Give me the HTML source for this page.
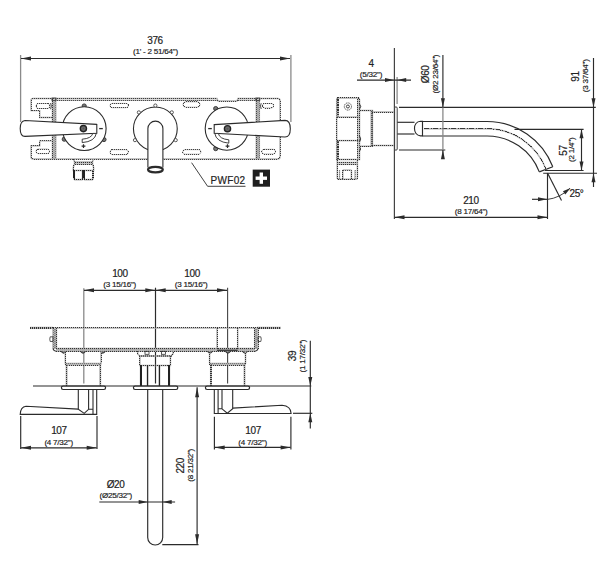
<!DOCTYPE html>
<html><head><meta charset="utf-8"><style>
html,body{margin:0;padding:0;background:#fff;}
body{width:612px;height:581px;overflow:hidden;position:relative;}
svg{position:absolute;left:0;top:0;}
text{font-family:"Liberation Sans",sans-serif;}
</style></head><body>
<svg width="612" height="581" viewBox="0 0 612 581">
<line x1="20.6" y1="55" x2="20.6" y2="122" stroke="#8a8a8a" stroke-width="1.3"/>
<line x1="290.9" y1="55" x2="290.9" y2="122" stroke="#8a8a8a" stroke-width="1.3"/>
<line x1="21" y1="58.5" x2="290" y2="58.5" stroke="#2b2b2b" stroke-width="1.15"/>
<polygon points="21,58.5 31.00,56.50 31.00,58.50 31.00,60.50" fill="#2b2b2b"/>
<polygon points="290,58.5 280.00,60.50 280.00,58.50 280.00,56.50" fill="#2b2b2b"/>
<text x="155.0" y="44.2" font-size="10" text-anchor="middle" fill="#222" stroke="#222" stroke-width="0.18" letter-spacing="-0.4">376</text>
<text x="155.5" y="54.1" font-size="8.1" text-anchor="middle" fill="#222" stroke="#222" stroke-width="0.18" letter-spacing="-0.25">(1' - 2 51/64")</text>
<path d="M53,98.5 L33,98.5 Q31,98.5 31,100.5 L31,110.6 L39.7,110.6 L39.7,117.5 L53,117.5" stroke="#b0b0b0" stroke-width="1.4" fill="none"/>
<path d="M53,98.5 L33,98.5 Q31,98.5 31,100.5 L31,110.6 L39.7,110.6 L39.7,117.5 L53,117.5" stroke="#333" stroke-width="0.9" fill="none" stroke-dasharray="1,1" shape-rendering="crispEdges"/>
<path d="M53,140.9 L39.7,140.9 L39.7,145.8 L31,145.8 L31,157 Q31,159 33,159 L53,159" stroke="#b0b0b0" stroke-width="1.4" fill="none"/>
<path d="M53,140.9 L39.7,140.9 L39.7,145.8 L31,145.8 L31,157 Q31,159 33,159 L53,159" stroke="#333" stroke-width="0.9" fill="none" stroke-dasharray="1,1" shape-rendering="crispEdges"/>
<path d="M53,98.5 L217,98.5 L218,101 L237,101 L238,98.5 L257,98.5" stroke="#b0b0b0" stroke-width="1.4" fill="none"/>
<path d="M53,98.5 L217,98.5 L218,101 L237,101 L238,98.5 L257,98.5" stroke="#333" stroke-width="0.9" fill="none" stroke-dasharray="1,1" shape-rendering="crispEdges"/>
<path d="M53,100.3 L217,100.3" stroke="#b0b0b0" stroke-width="1.3" fill="none"/>
<path d="M53,100.3 L217,100.3" stroke="#333" stroke-width="0.8" fill="none" stroke-dasharray="1,1" shape-rendering="crispEdges"/>
<path d="M238,100.3 L257,100.3" stroke="#b0b0b0" stroke-width="1.3" fill="none"/>
<path d="M238,100.3 L257,100.3" stroke="#333" stroke-width="0.8" fill="none" stroke-dasharray="1,1" shape-rendering="crispEdges"/>
<path d="M257,98.5 L278,98.5 Q280,98.5 280,100.5 L280,157 Q280,159 278,159 L53,159" stroke="#b0b0b0" stroke-width="1.4" fill="none"/>
<path d="M257,98.5 L278,98.5 Q280,98.5 280,100.5 L280,157 Q280,159 278,159 L53,159" stroke="#333" stroke-width="0.9" fill="none" stroke-dasharray="1,1" shape-rendering="crispEdges"/>
<line x1="52.5" y1="98.5" x2="52.5" y2="159" stroke="#b0b0b0" stroke-width="1.5"/>
<line x1="52.5" y1="98.5" x2="52.5" y2="159" stroke="#333" stroke-width="1" stroke-dasharray="1,1" shape-rendering="crispEdges"/>
<line x1="54.2" y1="99.5" x2="54.2" y2="159" stroke="#b0b0b0" stroke-width="2.1"/>
<line x1="54.2" y1="99.5" x2="54.2" y2="159" stroke="#a0a0a0" stroke-width="1.6" stroke-dasharray="1,1" shape-rendering="crispEdges"/>
<line x1="55.8" y1="98.5" x2="55.8" y2="159" stroke="#b0b0b0" stroke-width="1.3"/>
<line x1="55.8" y1="98.5" x2="55.8" y2="159" stroke="#666" stroke-width="0.8" stroke-dasharray="1,1" shape-rendering="crispEdges"/>
<rect x="52" y="98" width="4" height="2.5" fill="none" stroke="#333" stroke-width="0.8"/>
<line x1="256.3" y1="98.5" x2="256.3" y2="159" stroke="#b0b0b0" stroke-width="1.5"/>
<line x1="256.3" y1="98.5" x2="256.3" y2="159" stroke="#333" stroke-width="1" stroke-dasharray="1,1" shape-rendering="crispEdges"/>
<line x1="257.9" y1="99.5" x2="257.9" y2="159" stroke="#b0b0b0" stroke-width="2.1"/>
<line x1="257.9" y1="99.5" x2="257.9" y2="159" stroke="#a0a0a0" stroke-width="1.6" stroke-dasharray="1,1" shape-rendering="crispEdges"/>
<line x1="259.4" y1="98.5" x2="259.4" y2="159" stroke="#b0b0b0" stroke-width="1.3"/>
<line x1="259.4" y1="98.5" x2="259.4" y2="159" stroke="#666" stroke-width="0.8" stroke-dasharray="1,1" shape-rendering="crispEdges"/>
<rect x="255.8" y="98" width="4" height="2.5" fill="none" stroke="#333" stroke-width="0.8"/>
<rect x="36" y="103.5" width="14" height="5.0" rx="2.5" ry="2.5" stroke="#b0b0b0" stroke-width="0.9" fill="none"/>
<rect x="36" y="103.5" width="14" height="5.0" rx="2.5" ry="2.5" stroke="#333" stroke-width="0.9" fill="none" stroke-dasharray="1,1" shape-rendering="crispEdges"/>
<rect x="36" y="149" width="13.5" height="4.599999999999994" rx="2.299999999999997" ry="2.299999999999997" stroke="#b0b0b0" stroke-width="0.9" fill="none"/>
<rect x="36" y="149" width="13.5" height="4.599999999999994" rx="2.299999999999997" ry="2.299999999999997" stroke="#333" stroke-width="0.9" fill="none" stroke-dasharray="1,1" shape-rendering="crispEdges"/>
<rect x="110" y="103.4" width="18.30000000000001" height="4.299999999999997" rx="2.1499999999999986" ry="2.1499999999999986" stroke="#b0b0b0" stroke-width="0.9" fill="none"/>
<rect x="110" y="103.4" width="18.30000000000001" height="4.299999999999997" rx="2.1499999999999986" ry="2.1499999999999986" stroke="#333" stroke-width="0.9" fill="none" stroke-dasharray="1,1" shape-rendering="crispEdges"/>
<rect x="110" y="149.7" width="18.30000000000001" height="4.900000000000006" rx="2.450000000000003" ry="2.450000000000003" stroke="#b0b0b0" stroke-width="0.9" fill="none"/>
<rect x="110" y="149.7" width="18.30000000000001" height="4.900000000000006" rx="2.450000000000003" ry="2.450000000000003" stroke="#333" stroke-width="0.9" fill="none" stroke-dasharray="1,1" shape-rendering="crispEdges"/>
<rect x="183" y="101.8" width="17" height="5.400000000000006" rx="2.700000000000003" ry="2.700000000000003" stroke="#b0b0b0" stroke-width="0.9" fill="none"/>
<rect x="183" y="101.8" width="17" height="5.400000000000006" rx="2.700000000000003" ry="2.700000000000003" stroke="#333" stroke-width="0.9" fill="none" stroke-dasharray="1,1" shape-rendering="crispEdges"/>
<rect x="182.7" y="149.7" width="18.30000000000001" height="4.5" rx="2.25" ry="2.25" stroke="#b0b0b0" stroke-width="0.9" fill="none"/>
<rect x="182.7" y="149.7" width="18.30000000000001" height="4.5" rx="2.25" ry="2.25" stroke="#333" stroke-width="0.9" fill="none" stroke-dasharray="1,1" shape-rendering="crispEdges"/>
<rect x="262.5" y="103.5" width="11.100000000000023" height="4.5" rx="2.25" ry="2.25" stroke="#b0b0b0" stroke-width="0.9" fill="none"/>
<rect x="262.5" y="103.5" width="11.100000000000023" height="4.5" rx="2.25" ry="2.25" stroke="#333" stroke-width="0.9" fill="none" stroke-dasharray="1,1" shape-rendering="crispEdges"/>
<rect x="261.8" y="149.3" width="13.699999999999989" height="4.699999999999989" rx="2.3499999999999943" ry="2.3499999999999943" stroke="#b0b0b0" stroke-width="0.9" fill="none"/>
<rect x="261.8" y="149.3" width="13.699999999999989" height="4.699999999999989" rx="2.3499999999999943" ry="2.3499999999999943" stroke="#333" stroke-width="0.9" fill="none" stroke-dasharray="1,1" shape-rendering="crispEdges"/>
<path d="M50.6,103 Q52,106 50.6,109.2" stroke="#333" stroke-width="0.9" fill="none"/>
<path d="M261.2,103.2 Q259.8,106 261.2,109" stroke="#333" stroke-width="0.9" fill="none"/>
<circle cx="84.20" cy="106.00" r="2.1" stroke="#333" stroke-width="0.9" fill="#777"/>
<circle cx="64.25" cy="139.21" r="2.1" stroke="#333" stroke-width="0.9" fill="#777"/>
<circle cx="103.97" cy="139.56" r="2.1" stroke="#333" stroke-width="0.9" fill="#777"/>
<circle cx="84.2" cy="128.6" r="21.9" stroke="#2b2b2b" stroke-width="1.1" fill="#fff"/>
<path d="M96.8,124.4 L25,120.5 Q20.2,121 20.2,128.4 Q20.2,136.4 25,136.4 L96.8,133.2 Z" stroke="#2b2b2b" stroke-width="1.1" fill="#fff"/>
<circle cx="83.4" cy="128.6" r="3.1" stroke="#222" stroke-width="1.4" fill="#6d6d6d"/>
<circle cx="83.4" cy="128.6" r="1.0" fill="#555"/>
<path d="M99.2,128.6 L102.8,128.6" stroke="#2b2b2b" stroke-width="1.3" fill="none"/>
<path d="M81.6,146.2 L85.4,146.2 M83.5,144.3 L83.5,148.1" stroke="#2b2b2b" stroke-width="1.2" fill="none"/>
<path d="M96.3,133.4 Q95,141.5 82.2,142.6 L82.2,139.2 Q91.5,138.5 92.8,133.4 Z" stroke="#2b2b2b" stroke-width="0.9" fill="#fff"/>
<circle cx="155.35" cy="128.85" r="21.9" stroke="#2b2b2b" stroke-width="1.1" fill="#fff"/>
<circle cx="155.35" cy="105.55" r="1.6" stroke="#333" stroke-width="0.8" fill="#fff"/>
<circle cx="138.87" cy="112.37" r="1.6" stroke="#333" stroke-width="0.8" fill="#fff"/>
<circle cx="171.83" cy="112.37" r="1.6" stroke="#333" stroke-width="0.8" fill="#fff"/>
<circle cx="134.97" cy="140.15" r="1.6" stroke="#333" stroke-width="0.8" fill="#fff"/>
<circle cx="175.73" cy="140.15" r="1.6" stroke="#333" stroke-width="0.8" fill="#fff"/>
<path d="M147.9,167.5 L147.9,128.6 A7.5,7.5 0 0 1 162.9,128.6 L162.9,167.5" stroke="#2b2b2b" stroke-width="1.1" fill="#fff"/>
<ellipse cx="155.4" cy="169.6" rx="7.4" ry="2.8" stroke="#2b2b2b" stroke-width="2.2" fill="#fff"/>
<circle cx="215.70" cy="108.57" r="2.1" stroke="#333" stroke-width="0.9" fill="#777"/>
<circle cx="215.70" cy="148.63" r="2.1" stroke="#333" stroke-width="0.9" fill="#777"/>
<circle cx="226.8" cy="128.6" r="21.6" stroke="#2b2b2b" stroke-width="1.1" fill="#fff"/>
<path d="M214.2,124.6 L285,120.4 Q290.3,120.4 290.3,128.7 Q290.3,137 285,137 L214.2,133.2 Z" stroke="#2b2b2b" stroke-width="1.1" fill="#fff"/>
<circle cx="227.5" cy="128.7" r="3.1" stroke="#222" stroke-width="1.4" fill="#6d6d6d"/>
<circle cx="227.5" cy="128.7" r="1.0" fill="#555"/>
<path d="M208.2,128.6 L211.8,128.6" stroke="#2b2b2b" stroke-width="1.3" fill="none"/>
<path d="M225.6,146.2 L229.4,146.2 M227.5,144.3 L227.5,148.1" stroke="#2b2b2b" stroke-width="1.2" fill="none"/>
<path d="M214.8,133.4 Q216,141.8 228.8,143.2 L228.8,139.8 Q219.5,139 218.3,133.4 Z" stroke="#2b2b2b" stroke-width="0.9" fill="#fff"/>
<path d="M73.5,159.3 Q74.5,161 74.5,162 L74.5,164.5 Q73.3,166 73.3,168 L73.3,170.4 L93.6,170.4 L93.6,168 Q93.6,166 92.5,164.5 L92.5,162 Q92.5,161 93.5,159.3" stroke="#b0b0b0" stroke-width="1.5" fill="none"/>
<path d="M73.5,159.3 Q74.5,161 74.5,162 L74.5,164.5 Q73.3,166 73.3,168 L73.3,170.4 L93.6,170.4 L93.6,168 Q93.6,166 92.5,164.5 L92.5,162 Q92.5,161 93.5,159.3" stroke="#333" stroke-width="1" fill="none" stroke-dasharray="1,1" shape-rendering="crispEdges"/>
<line x1="74.5" y1="162.1" x2="92.5" y2="162.1" stroke="#b0b0b0" stroke-width="1.7"/>
<line x1="74.5" y1="162.1" x2="92.5" y2="162.1" stroke="#333" stroke-width="1.2" stroke-dasharray="1,1" shape-rendering="crispEdges"/>
<line x1="74.5" y1="164.1" x2="92.5" y2="164.1" stroke="#b0b0b0" stroke-width="1.7"/>
<line x1="74.5" y1="164.1" x2="92.5" y2="164.1" stroke="#333" stroke-width="1.2" stroke-dasharray="1,1" shape-rendering="crispEdges"/>
<path d="M74.1,170.4 L74.1,178 Q74.1,179.6 75.7,179.6 L81.1,179.6 Q82.7,179.6 82.7,178 L82.7,170.4" stroke="#b0b0b0" stroke-width="1.9" fill="none"/>
<path d="M74.1,170.4 L74.1,178 Q74.1,179.6 75.7,179.6 L81.1,179.6 Q82.7,179.6 82.7,178 L82.7,170.4" stroke="#222" stroke-width="1.4" fill="none" stroke-dasharray="1.2,0.8" shape-rendering="crispEdges"/>
<path d="M83.9,170.4 L83.9,178 Q83.9,179.6 85.5,179.6 L91.4,179.6 Q93,179.6 93,178 L93,170.4" stroke="#b0b0b0" stroke-width="1.9" fill="none"/>
<path d="M83.9,170.4 L83.9,178 Q83.9,179.6 85.5,179.6 L91.4,179.6 Q93,179.6 93,178 L93,170.4" stroke="#222" stroke-width="1.4" fill="none" stroke-dasharray="1.2,0.8" shape-rendering="crispEdges"/>
<path d="M191.6,162.7 L207.6,186.3 L245.5,186.3" stroke="#2b2b2b" stroke-width="0.9" fill="none"/>
<text x="210.6" y="183.9" font-size="10" text-anchor="start" fill="#222" stroke="#222" stroke-width="0.18" letter-spacing="0.3">PWF02</text>
<rect x="252.7" y="169.6" width="17.3" height="17.1" fill="#1f1f1f"/>
<rect x="259.6" y="172.5" width="3.4" height="11.3" fill="#fff"/>
<rect x="255.6" y="176.5" width="11.4" height="3.4" fill="#fff"/>
<line x1="394.4" y1="48" x2="394.4" y2="219" stroke="#444" stroke-width="1.2"/>
<line x1="397.1" y1="77" x2="397.1" y2="104" stroke="#8a8a8a" stroke-width="1.3"/>
<line x1="357" y1="80.1" x2="411" y2="80.1" stroke="#2b2b2b" stroke-width="1.15"/>
<polygon points="394,80.1 385.00,82.10 385.00,80.10 385.00,78.10" fill="#2b2b2b"/>
<polygon points="397.2,80.1 406.20,78.10 406.20,80.10 406.20,82.10" fill="#2b2b2b"/>
<text x="371" y="66.5" font-size="10" text-anchor="middle" fill="#222" stroke="#222" stroke-width="0.18" letter-spacing="-0.4">4</text>
<text x="371.0" y="77.3" font-size="8.1" text-anchor="middle" fill="#222" stroke="#222" stroke-width="0.18" letter-spacing="-0.25">(5/32")</text>
<path d="M338,97.9 L357.8,97.9 Q359.5,97.9 359.5,99.6 L359.5,159.5 L336.7,159.5 L336.7,99.6 Q336.7,97.9 338,97.9 Z" stroke="#b0b0b0" stroke-width="1.5" fill="none"/>
<path d="M338,97.9 L357.8,97.9 Q359.5,97.9 359.5,99.6 L359.5,159.5 L336.7,159.5 L336.7,99.6 Q336.7,97.9 338,97.9 Z" stroke="#333" stroke-width="1" fill="none" stroke-dasharray="1,1" shape-rendering="crispEdges"/>
<line x1="357.8" y1="99" x2="357.8" y2="159.5" stroke="#b0b0b0" stroke-width="1.5"/>
<line x1="357.8" y1="99" x2="357.8" y2="159.5" stroke="#333" stroke-width="1" stroke-dasharray="1,1" shape-rendering="crispEdges"/>
<line x1="337.6" y1="98.5" x2="337.6" y2="117.1" stroke="#b0b0b0" stroke-width="2.5"/>
<line x1="337.6" y1="98.5" x2="337.6" y2="117.1" stroke="#333" stroke-width="2" stroke-dasharray="1,0.7" shape-rendering="crispEdges"/>
<line x1="337.6" y1="140.6" x2="337.6" y2="159.1" stroke="#b0b0b0" stroke-width="2.5"/>
<line x1="337.6" y1="140.6" x2="337.6" y2="159.1" stroke="#333" stroke-width="2" stroke-dasharray="1,0.7" shape-rendering="crispEdges"/>
<line x1="336.7" y1="117.1" x2="359.5" y2="117.1" stroke="#b0b0b0" stroke-width="1.5"/>
<line x1="336.7" y1="117.1" x2="359.5" y2="117.1" stroke="#333" stroke-width="1" stroke-dasharray="1,1" shape-rendering="crispEdges"/>
<line x1="336.7" y1="140.6" x2="359.5" y2="140.6" stroke="#b0b0b0" stroke-width="1.5"/>
<line x1="336.7" y1="140.6" x2="359.5" y2="140.6" stroke="#333" stroke-width="1" stroke-dasharray="1,1" shape-rendering="crispEdges"/>
<circle cx="347.9" cy="106.5" r="3.6" stroke="#2b2b2b" stroke-width="0.8" fill="none" stroke-dasharray="1.2,0.6"/>
<circle cx="347.9" cy="106.5" r="1.5" stroke="#2b2b2b" stroke-width="0.9" fill="none"/>
<path d="M359.5,110.5 L372.4,110.5 L372.4,146.2 L359.5,146.2" stroke="#b0b0b0" stroke-width="1.5" fill="none"/>
<path d="M359.5,110.5 L372.4,110.5 L372.4,146.2 L359.5,146.2" stroke="#333" stroke-width="1" fill="none" stroke-dasharray="1,1" shape-rendering="crispEdges"/>
<line x1="371.6" y1="110.5" x2="371.6" y2="146.2" stroke="#b0b0b0" stroke-width="2.3"/>
<line x1="371.6" y1="110.5" x2="371.6" y2="146.2" stroke="#555" stroke-width="1.8" stroke-dasharray="1,1" shape-rendering="crispEdges"/>
<path d="M372.4,112 L394.5,112 M372.4,145.4 L394.5,145.4" stroke="#b0b0b0" stroke-width="1.5" fill="none"/>
<path d="M372.4,112 L394.5,112 M372.4,145.4 L394.5,145.4" stroke="#333" stroke-width="1" fill="none" stroke-dasharray="1,1" shape-rendering="crispEdges"/>
<path d="M359.5,104 Q362,106.5 359.5,109" stroke="#333" stroke-width="0.9" fill="#999"/>
<path d="M359.5,136 Q362,139.0 359.5,142" stroke="#333" stroke-width="0.9" fill="#999"/>
<path d="M359.5,147 Q362,149.0 359.5,151" stroke="#333" stroke-width="0.9" fill="#999"/>
<path d="M337.2,159.5 L337.2,177.5 Q337.2,179.3 339,179.3 L355.6,179.3 Q357.4,179.3 357.4,177.5 L357.4,159.5" stroke="#b0b0b0" stroke-width="1.5" fill="none"/>
<path d="M337.2,159.5 L337.2,177.5 Q337.2,179.3 339,179.3 L355.6,179.3 Q357.4,179.3 357.4,177.5 L357.4,159.5" stroke="#333" stroke-width="1" fill="none" stroke-dasharray="1,1" shape-rendering="crispEdges"/>
<line x1="337.2" y1="162.5" x2="357.4" y2="162.5" stroke="#b0b0b0" stroke-width="1.5"/>
<line x1="337.2" y1="162.5" x2="357.4" y2="162.5" stroke="#333" stroke-width="1" stroke-dasharray="1,1" shape-rendering="crispEdges"/>
<line x1="337.2" y1="164.3" x2="357.4" y2="164.3" stroke="#b0b0b0" stroke-width="1.5"/>
<line x1="337.2" y1="164.3" x2="357.4" y2="164.3" stroke="#333" stroke-width="1" stroke-dasharray="1,1" shape-rendering="crispEdges"/>
<line x1="342.8" y1="170" x2="342.8" y2="179.3" stroke="#b0b0b0" stroke-width="1.5"/>
<line x1="342.8" y1="170" x2="342.8" y2="179.3" stroke="#333" stroke-width="1" stroke-dasharray="1,1" shape-rendering="crispEdges"/>
<line x1="351.4" y1="170" x2="351.4" y2="179.3" stroke="#b0b0b0" stroke-width="1.5"/>
<line x1="351.4" y1="170" x2="351.4" y2="179.3" stroke="#333" stroke-width="1" stroke-dasharray="1,1" shape-rendering="crispEdges"/>
<line x1="342.8" y1="170" x2="351.4" y2="170" stroke="#b0b0b0" stroke-width="1.3"/>
<line x1="342.8" y1="170" x2="351.4" y2="170" stroke="#333" stroke-width="0.8" stroke-dasharray="1,1" shape-rendering="crispEdges"/>
<line x1="339.5" y1="170" x2="339.5" y2="179" stroke="#b0b0b0" stroke-width="1.3"/>
<line x1="339.5" y1="170" x2="339.5" y2="179" stroke="#777" stroke-width="0.8" stroke-dasharray="1,1" shape-rendering="crispEdges"/>
<line x1="355" y1="170" x2="355" y2="179" stroke="#b0b0b0" stroke-width="1.3"/>
<line x1="355" y1="170" x2="355" y2="179" stroke="#777" stroke-width="0.8" stroke-dasharray="1,1" shape-rendering="crispEdges"/>
<rect x="394.6" y="106.9" width="2.6" height="43.3" rx="1.2" ry="1.2" stroke="#2b2b2b" stroke-width="0.9" fill="#fff"/>
<line x1="399" y1="107.4" x2="595.8" y2="107.4" stroke="#2b2b2b" stroke-width="1.15"/>
<line x1="399" y1="150" x2="445.3" y2="150" stroke="#2b2b2b" stroke-width="1.15"/>
<line x1="397.3" y1="122.3" x2="414.5" y2="122.3" stroke="#2b2b2b" stroke-width="1.15"/>
<line x1="397.3" y1="134" x2="414.5" y2="134" stroke="#2b2b2b" stroke-width="1.15"/>
<path d="M422.5,121.3 L420.5,121.3 C416.5,121.6 414.5,125 414.5,128.6 C414.5,132.2 416.5,135.6 420.5,135.9 L422.5,135.9 Z" stroke="#2b2b2b" stroke-width="1.15" fill="none"/>
<path d="M422.5,121.5 L487,121.5 A70.5,70.5 0 0 1 552.8,166.8" stroke="#2b2b2b" stroke-width="1.15" fill="none"/>
<path d="M422.5,136 L487,136 A56,56 0 0 1 539.3,171.9" stroke="#2b2b2b" stroke-width="1.15" fill="none"/>
<path d="M552.8,166.8 L539.3,171.9" stroke="#2b2b2b" stroke-width="1.15" fill="none"/>
<path d="M424,128.7 L487,128.7 A63.3,63.3 0 0 1 546.1,169.3" stroke="#b0b0b0" stroke-width="1.4" fill="none"/>
<path d="M424,128.7 L487,128.7 A63.3,63.3 0 0 1 546.1,169.3" stroke="#2b2b2b" stroke-width="0.9" fill="none" stroke-dasharray="5,1.5,1,1.5" shape-rendering="crispEdges"/>
<line x1="442.9" y1="55" x2="442.9" y2="107.4" stroke="#2b2b2b" stroke-width="1.15"/>
<line x1="442.9" y1="107.4" x2="442.9" y2="150" stroke="#8a8a8a" stroke-width="1.3"/>
<line x1="442.9" y1="150" x2="442.9" y2="156" stroke="#2b2b2b" stroke-width="1.15"/>
<polygon points="442.9,107.2 440.90,98.20 442.90,98.20 444.90,98.20" fill="#2b2b2b"/>
<polygon points="442.9,150.2 444.90,159.20 442.90,159.20 440.90,159.20" fill="#2b2b2b"/>
<text x="429.4" y="74.4" font-size="10" text-anchor="middle" fill="#222" stroke="#222" stroke-width="0.18" transform="rotate(-90 429.4 74.4)" letter-spacing="-0.4">Ø60</text>
<text x="437.9" y="74.1" font-size="8.1" text-anchor="middle" fill="#222" stroke="#222" stroke-width="0.18" transform="rotate(-90 437.9 74.1)" letter-spacing="-0.25">(Ø2 23/64")</text>
<line x1="593.5" y1="58" x2="593.5" y2="187" stroke="#2b2b2b" stroke-width="1.15"/>
<polygon points="593.5,107.2 591.50,98.20 593.50,98.20 595.50,98.20" fill="#2b2b2b"/>
<polygon points="593.5,173.2 595.50,182.20 593.50,182.20 591.50,182.20" fill="#2b2b2b"/>
<text x="579.3" y="76.5" font-size="10" text-anchor="middle" fill="#222" stroke="#222" stroke-width="0.18" transform="rotate(-90 579.3 76.5)" letter-spacing="-0.4">91</text>
<text x="588.1" y="75.8" font-size="8.1" text-anchor="middle" fill="#222" stroke="#222" stroke-width="0.18" transform="rotate(-90 588.1 75.8)" letter-spacing="-0.25">(3 37/64")</text>
<line x1="514.5" y1="129.3" x2="583.6" y2="129.3" stroke="#2b2b2b" stroke-width="1.15"/>
<line x1="545" y1="170.5" x2="583.6" y2="170.5" stroke="#2b2b2b" stroke-width="1.15"/>
<line x1="543.2" y1="173.2" x2="597" y2="173.2" stroke="#2b2b2b" stroke-width="1.15"/>
<line x1="581.5" y1="129.3" x2="581.5" y2="170.5" stroke="#2b2b2b" stroke-width="1.15"/>
<polygon points="581.5,129.3 583.50,138.30 581.50,138.30 579.50,138.30" fill="#2b2b2b"/>
<polygon points="581.5,170.5 579.50,161.50 581.50,161.50 583.50,161.50" fill="#2b2b2b"/>
<text x="566.6" y="150.5" font-size="10" text-anchor="middle" fill="#222" stroke="#222" stroke-width="0.18" transform="rotate(-90 566.6 150.5)" letter-spacing="-0.4">57</text>
<text x="574.0" y="149.8" font-size="8.1" text-anchor="middle" fill="#222" stroke="#222" stroke-width="0.18" transform="rotate(-90 574.0 149.8)" letter-spacing="-0.25">(2 1/4")</text>
<line x1="547.5" y1="173" x2="547.5" y2="219" stroke="#2b2b2b" stroke-width="1.15"/>
<line x1="394.5" y1="217.3" x2="547.5" y2="217.3" stroke="#2b2b2b" stroke-width="1.15"/>
<polygon points="394.5,217.3 404.50,215.30 404.50,217.30 404.50,219.30" fill="#2b2b2b"/>
<polygon points="547.5,217.3 537.50,219.30 537.50,217.30 537.50,215.30" fill="#2b2b2b"/>
<text x="470.9" y="204.2" font-size="10" text-anchor="middle" fill="#222" stroke="#222" stroke-width="0.18" letter-spacing="-0.4">210</text>
<text x="471.1" y="213.6" font-size="8.1" text-anchor="middle" fill="#222" stroke="#222" stroke-width="0.18" letter-spacing="-0.25">(8 17/64")</text>
<line x1="547.5" y1="173" x2="561.5" y2="200.5" stroke="#2b2b2b" stroke-width="1.15"/>
<path d="M547,199.5 Q560,198 570,188.3" stroke="#2b2b2b" stroke-width="0.9" fill="none"/>
<line x1="532" y1="199.3" x2="547" y2="199.3" stroke="#2b2b2b" stroke-width="1.15"/>
<polygon points="547,199.3 538.00,201.30 538.00,199.30 538.00,197.30" fill="#2b2b2b"/>
<polygon points="570.5,188 565.30,194.40 564.10,192.80 562.90,191.20" fill="#2b2b2b"/>
<text x="569.5" y="196.6" font-size="10" text-anchor="start" fill="#222" stroke="#222" stroke-width="0.18" letter-spacing="-0.4">25°</text>
<line x1="83.8" y1="288.2" x2="83.8" y2="383.5" stroke="#8a8a8a" stroke-width="1.3"/>
<line x1="155.5" y1="287.7" x2="155.5" y2="383.5" stroke="#2b2b2b" stroke-width="1.2"/>
<line x1="227.6" y1="287.7" x2="227.6" y2="383.5" stroke="#444" stroke-width="1.1"/>
<line x1="84" y1="290.3" x2="227" y2="290.3" stroke="#2b2b2b" stroke-width="1.15"/>
<polygon points="84,290.3 94.00,288.30 94.00,290.30 94.00,292.30" fill="#2b2b2b"/>
<polygon points="155.3,290.3 145.30,292.30 145.30,290.30 145.30,288.30" fill="#2b2b2b"/>
<polygon points="155.7,290.3 165.70,288.30 165.70,290.30 165.70,292.30" fill="#2b2b2b"/>
<polygon points="227,290.3 217.00,292.30 217.00,290.30 217.00,288.30" fill="#2b2b2b"/>
<text x="119.9" y="277.2" font-size="10" text-anchor="middle" fill="#222" stroke="#222" stroke-width="0.18" letter-spacing="-0.4">100</text>
<text x="119.7" y="286.8" font-size="8.1" text-anchor="middle" fill="#222" stroke="#222" stroke-width="0.18" letter-spacing="-0.25">(3 15/16")</text>
<text x="192.1" y="277.2" font-size="10" text-anchor="middle" fill="#222" stroke="#222" stroke-width="0.18" letter-spacing="-0.4">100</text>
<text x="191.2" y="286.8" font-size="8.1" text-anchor="middle" fill="#222" stroke="#222" stroke-width="0.18" letter-spacing="-0.25">(3 15/16")</text>
<line x1="30.2" y1="327.9" x2="53" y2="327.9" stroke="#b0b0b0" stroke-width="2.3"/>
<line x1="30.2" y1="327.9" x2="53" y2="327.9" stroke="#333" stroke-width="1.8" stroke-dasharray="1,1" shape-rendering="crispEdges"/>
<line x1="53" y1="327.9" x2="280.8" y2="327.9" stroke="#b0b0b0" stroke-width="1.5"/>
<line x1="53" y1="327.9" x2="280.8" y2="327.9" stroke="#333" stroke-width="1" stroke-dasharray="1,1" shape-rendering="crispEdges"/>
<line x1="257" y1="327.9" x2="280.8" y2="327.9" stroke="#b0b0b0" stroke-width="2.3"/>
<line x1="257" y1="327.9" x2="280.8" y2="327.9" stroke="#333" stroke-width="1.8" stroke-dasharray="1,1" shape-rendering="crispEdges"/>
<line x1="53" y1="327.9" x2="53" y2="348.5" stroke="#b0b0b0" stroke-width="1.5"/>
<line x1="53" y1="327.9" x2="53" y2="348.5" stroke="#333" stroke-width="1" stroke-dasharray="1,1" shape-rendering="crispEdges"/>
<line x1="54.7" y1="329" x2="54.7" y2="349" stroke="#b0b0b0" stroke-width="2.5"/>
<line x1="54.7" y1="329" x2="54.7" y2="349" stroke="#888" stroke-width="2" stroke-dasharray="1,1" shape-rendering="crispEdges"/>
<line x1="56.4" y1="327.9" x2="56.4" y2="348.5" stroke="#b0b0b0" stroke-width="1.5"/>
<line x1="56.4" y1="327.9" x2="56.4" y2="348.5" stroke="#333" stroke-width="1" stroke-dasharray="1,1" shape-rendering="crispEdges"/>
<path d="M53,348.5 Q53.5,351 56,351.2" stroke="#333" stroke-width="1.15" fill="none"/>
<line x1="258" y1="327.9" x2="258" y2="348.5" stroke="#b0b0b0" stroke-width="1.5"/>
<line x1="258" y1="327.9" x2="258" y2="348.5" stroke="#333" stroke-width="1" stroke-dasharray="1,1" shape-rendering="crispEdges"/>
<line x1="256.3" y1="329" x2="256.3" y2="349" stroke="#b0b0b0" stroke-width="2.5"/>
<line x1="256.3" y1="329" x2="256.3" y2="349" stroke="#888" stroke-width="2" stroke-dasharray="1,1" shape-rendering="crispEdges"/>
<line x1="254.7" y1="327.9" x2="254.7" y2="348.5" stroke="#b0b0b0" stroke-width="1.5"/>
<line x1="254.7" y1="327.9" x2="254.7" y2="348.5" stroke="#333" stroke-width="1" stroke-dasharray="1,1" shape-rendering="crispEdges"/>
<path d="M258,348.5 Q257.5,351 255,351.2" stroke="#333" stroke-width="1.15" fill="none"/>
<line x1="56" y1="348.6" x2="255" y2="348.6" stroke="#b0b0b0" stroke-width="1.5"/>
<line x1="56" y1="348.6" x2="255" y2="348.6" stroke="#333" stroke-width="1" stroke-dasharray="1,1" shape-rendering="crispEdges"/>
<line x1="56" y1="349.9" x2="255" y2="349.9" stroke="#b0b0b0" stroke-width="1.9"/>
<line x1="56" y1="349.9" x2="255" y2="349.9" stroke="#aaa" stroke-width="1.4" stroke-dasharray="1,1" shape-rendering="crispEdges"/>
<line x1="56" y1="351.2" x2="255" y2="351.2" stroke="#b0b0b0" stroke-width="1.5"/>
<line x1="56" y1="351.2" x2="255" y2="351.2" stroke="#333" stroke-width="1" stroke-dasharray="1,1" shape-rendering="crispEdges"/>
<path d="M50.2,336.8 Q49.3,339.2 50.2,341.5 L53,341.5 L53,336.8 Z" stroke="#333" stroke-width="0.8" fill="none"/>
<path d="M260.8,336.8 Q261.7,339.2 260.8,341.5 L258,341.5 L258,336.8 Z" stroke="#333" stroke-width="0.8" fill="none"/>
<line x1="217" y1="327.9" x2="217" y2="350" stroke="#b0b0b0" stroke-width="1.5"/>
<line x1="217" y1="327.9" x2="217" y2="350" stroke="#333" stroke-width="1" stroke-dasharray="1,1" shape-rendering="crispEdges"/>
<line x1="237.7" y1="327.9" x2="237.7" y2="350" stroke="#b0b0b0" stroke-width="1.5"/>
<line x1="237.7" y1="327.9" x2="237.7" y2="350" stroke="#333" stroke-width="1" stroke-dasharray="1,1" shape-rendering="crispEdges"/>
<line x1="217" y1="350.3" x2="237.7" y2="350.3" stroke="#333" stroke-width="1.2"/>
<path d="M61.1,351.3 Q63.6,355 66.1,351.3" stroke="#333" stroke-width="1.15" fill="#888"/>
<path d="M80.5,351.3 Q83,355 85.5,351.3" stroke="#333" stroke-width="1.15" fill="#888"/>
<path d="M100.3,351.3 Q102.8,355 105.3,351.3" stroke="#333" stroke-width="1.15" fill="#888"/>
<path d="M207.5,351.3 Q210,355 212.5,351.3" stroke="#333" stroke-width="1.15" fill="#888"/>
<path d="M225.4,351.3 Q227.9,355 230.4,351.3" stroke="#333" stroke-width="1.15" fill="#888"/>
<path d="M242.5,351.3 Q245,355 247.5,351.3" stroke="#333" stroke-width="1.15" fill="#888"/>
<path d="M65.3,351.5 L65.3,363 Q65.3,365 67.3,365 L99,365 Q101,365 101,363 L101,351.5" stroke="#b0b0b0" stroke-width="1.5" fill="none"/>
<path d="M65.3,351.5 L65.3,363 Q65.3,365 67.3,365 L99,365 Q101,365 101,363 L101,351.5" stroke="#333" stroke-width="1" fill="none" stroke-dasharray="1,1" shape-rendering="crispEdges"/>
<line x1="66" y1="363.6" x2="100.5" y2="363.6" stroke="#b0b0b0" stroke-width="1.9"/>
<line x1="66" y1="363.6" x2="100.5" y2="363.6" stroke="#777" stroke-width="1.4" stroke-dasharray="1,1" shape-rendering="crispEdges"/>
<line x1="66.6" y1="365" x2="66.6" y2="385.5" stroke="#b0b0b0" stroke-width="1.9"/>
<line x1="66.6" y1="365" x2="66.6" y2="385.5" stroke="#333" stroke-width="1.4" stroke-dasharray="1,1" shape-rendering="crispEdges"/>
<line x1="100.2" y1="365" x2="100.2" y2="385.5" stroke="#b0b0b0" stroke-width="1.9"/>
<line x1="100.2" y1="365" x2="100.2" y2="385.5" stroke="#333" stroke-width="1.4" stroke-dasharray="1,1" shape-rendering="crispEdges"/>
<path d="M209.6,351.5 L209.6,363 Q209.6,365 211.6,365 L243.5,365 Q245.5,365 245.5,363 L245.5,351.5" stroke="#b0b0b0" stroke-width="1.5" fill="none"/>
<path d="M209.6,351.5 L209.6,363 Q209.6,365 211.6,365 L243.5,365 Q245.5,365 245.5,363 L245.5,351.5" stroke="#333" stroke-width="1" fill="none" stroke-dasharray="1,1" shape-rendering="crispEdges"/>
<line x1="210.3" y1="363.6" x2="245" y2="363.6" stroke="#b0b0b0" stroke-width="1.9"/>
<line x1="210.3" y1="363.6" x2="245" y2="363.6" stroke="#777" stroke-width="1.4" stroke-dasharray="1,1" shape-rendering="crispEdges"/>
<line x1="210.9" y1="365" x2="210.9" y2="385.5" stroke="#b0b0b0" stroke-width="1.9"/>
<line x1="210.9" y1="365" x2="210.9" y2="385.5" stroke="#333" stroke-width="1.4" stroke-dasharray="1,1" shape-rendering="crispEdges"/>
<line x1="244.5" y1="365" x2="244.5" y2="385.5" stroke="#b0b0b0" stroke-width="1.9"/>
<line x1="244.5" y1="365" x2="244.5" y2="385.5" stroke="#333" stroke-width="1.4" stroke-dasharray="1,1" shape-rendering="crispEdges"/>
<path d="M137.7,351.3 L137.7,354 L139.9,356 L170.4,356 L173,354 L173,351.3" stroke="#b0b0b0" stroke-width="1.5" fill="none"/>
<path d="M137.7,351.3 L137.7,354 L139.9,356 L170.4,356 L173,354 L173,351.3" stroke="#333" stroke-width="1" fill="none" stroke-dasharray="1,1" shape-rendering="crispEdges"/>
<rect x="145" y="351.3" width="4" height="3" fill="none" stroke="#333" stroke-width="0.8"/>
<rect x="161.5" y="351.3" width="4" height="3" fill="none" stroke="#333" stroke-width="0.8"/>
<line x1="139" y1="356" x2="172" y2="356" stroke="#b0b0b0" stroke-width="2.1"/>
<line x1="139" y1="356" x2="172" y2="356" stroke="#666" stroke-width="1.6" stroke-dasharray="1,1" shape-rendering="crispEdges"/>
<path d="M139.9,356 L139.9,365.4 L170.4,365.4 L170.4,356" stroke="#b0b0b0" stroke-width="1.5" fill="none"/>
<path d="M139.9,356 L139.9,365.4 L170.4,365.4 L170.4,356" stroke="#333" stroke-width="1" fill="none" stroke-dasharray="1,1" shape-rendering="crispEdges"/>
<line x1="140.8" y1="365.4" x2="140.8" y2="386" stroke="#b0b0b0" stroke-width="2.0"/>
<line x1="140.8" y1="365.4" x2="140.8" y2="386" stroke="#222" stroke-width="1.5" stroke-dasharray="1.5,0.5" shape-rendering="crispEdges"/>
<line x1="147.6" y1="365.4" x2="147.6" y2="386" stroke="#b0b0b0" stroke-width="2.0"/>
<line x1="147.6" y1="365.4" x2="147.6" y2="386" stroke="#222" stroke-width="1.5" stroke-dasharray="1.5,0.5" shape-rendering="crispEdges"/>
<line x1="159.3" y1="365.4" x2="159.3" y2="386" stroke="#b0b0b0" stroke-width="2.0"/>
<line x1="159.3" y1="365.4" x2="159.3" y2="386" stroke="#222" stroke-width="1.5" stroke-dasharray="1.5,0.5" shape-rendering="crispEdges"/>
<line x1="169.2" y1="365.4" x2="169.2" y2="386" stroke="#b0b0b0" stroke-width="2.0"/>
<line x1="169.2" y1="365.4" x2="169.2" y2="386" stroke="#222" stroke-width="1.5" stroke-dasharray="1.5,0.5" shape-rendering="crispEdges"/>
<line x1="33" y1="386" x2="311.3" y2="386" stroke="#2b2b2b" stroke-width="1.2"/>
<rect x="61.4" y="386.1" width="44.199999999999996" height="3.4" rx="1.7" ry="1.7" stroke="#2b2b2b" stroke-width="1.2" fill="#fff"/>
<rect x="133.4" y="386.1" width="44.400000000000006" height="3.4" rx="1.7" ry="1.7" stroke="#2b2b2b" stroke-width="1.2" fill="#fff"/>
<rect x="205.4" y="386.1" width="44.19999999999999" height="3.4" rx="1.7" ry="1.7" stroke="#2b2b2b" stroke-width="1.2" fill="#fff"/>
<path d="M78.3,389.6 L78.3,409.3 L84.2,413.4 L88.6,409.3 L88.6,389.6 M88.6,409.3 L93,409.3" stroke="#2b2b2b" stroke-width="1.1" fill="none"/>
<line x1="93" y1="389.6" x2="93" y2="414.2" stroke="#2b2b2b" stroke-width="1.1"/>
<path d="M96.7,389.6 L96.7,414.4 L20.2,414.4 Q20.5,407 26,406.3 L78.3,409.1" stroke="#2b2b2b" stroke-width="1.1" fill="none"/>
<path d="M232.7,389.6 L232.7,408.8 L227.3,413.2 L222,408.8 L222,389.6 M222,408.8 L218.1,408.8" stroke="#2b2b2b" stroke-width="1.1" fill="none"/>
<line x1="218.1" y1="389.6" x2="218.1" y2="413.5" stroke="#2b2b2b" stroke-width="1.1"/>
<path d="M214.3,389.6 L214.3,413.5 L291.1,413.5 Q291,406 282,405.2 L232.7,408.1" stroke="#2b2b2b" stroke-width="1.1" fill="none"/>
<line x1="20.7" y1="416" x2="20.7" y2="449" stroke="#2b2b2b" stroke-width="1.15"/>
<line x1="97" y1="416" x2="97" y2="449" stroke="#2b2b2b" stroke-width="1.15"/>
<line x1="21" y1="447.8" x2="96.7" y2="447.8" stroke="#2b2b2b" stroke-width="1.15"/>
<polygon points="21,447.8 31.00,445.80 31.00,447.80 31.00,449.80" fill="#2b2b2b"/>
<polygon points="96.7,447.8 86.70,449.80 86.70,447.80 86.70,445.80" fill="#2b2b2b"/>
<text x="58.9" y="433.9" font-size="10" text-anchor="middle" fill="#222" stroke="#222" stroke-width="0.18" letter-spacing="-0.4">107</text>
<text x="58.7" y="444.5" font-size="8.1" text-anchor="middle" fill="#222" stroke="#222" stroke-width="0.18" letter-spacing="-0.25">(4 7/32")</text>
<line x1="214.4" y1="416.8" x2="214.4" y2="449.5" stroke="#2b2b2b" stroke-width="1.15"/>
<line x1="290.9" y1="416.8" x2="290.9" y2="449.5" stroke="#2b2b2b" stroke-width="1.15"/>
<line x1="214.7" y1="447.4" x2="290.6" y2="447.4" stroke="#2b2b2b" stroke-width="1.15"/>
<polygon points="214.7,447.4 224.70,445.40 224.70,447.40 224.70,449.40" fill="#2b2b2b"/>
<polygon points="290.6,447.4 280.60,449.40 280.60,447.40 280.60,445.40" fill="#2b2b2b"/>
<text x="253.1" y="434.2" font-size="10" text-anchor="middle" fill="#222" stroke="#222" stroke-width="0.18" letter-spacing="-0.4">107</text>
<text x="252.6" y="444.5" font-size="8.1" text-anchor="middle" fill="#222" stroke="#222" stroke-width="0.18" letter-spacing="-0.25">(4 7/32")</text>
<line x1="310.3" y1="340.7" x2="310.3" y2="428.5" stroke="#2b2b2b" stroke-width="1.15"/>
<line x1="293" y1="413.3" x2="312.3" y2="413.3" stroke="#2b2b2b" stroke-width="1.15"/>
<polygon points="310.3,385.9 308.30,376.90 310.30,376.90 312.30,376.90" fill="#2b2b2b"/>
<polygon points="310.3,413.3 312.30,422.30 310.30,422.30 308.30,422.30" fill="#2b2b2b"/>
<text x="296.4" y="356" font-size="10" text-anchor="middle" fill="#222" stroke="#222" stroke-width="0.18" transform="rotate(-90 296.4 356)" letter-spacing="-0.4">39</text>
<text x="305.0" y="356.1" font-size="8.1" text-anchor="middle" fill="#222" stroke="#222" stroke-width="0.18" transform="rotate(-90 305.0 356.1)" letter-spacing="-0.25">(1 17/32")</text>
<path d="M147.7,389.4 L147.7,537.5 A7.5,7.5 0 0 0 162.7,537.5 L162.7,389.4" stroke="#2b2b2b" stroke-width="1.15" fill="none"/>
<line x1="197.1" y1="387.2" x2="197.1" y2="544.3" stroke="#2b2b2b" stroke-width="1.15"/>
<polygon points="197.1,387.2 199.10,397.20 197.10,397.20 195.10,397.20" fill="#2b2b2b"/>
<polygon points="197.1,544.3 195.10,534.30 197.10,534.30 199.10,534.30" fill="#2b2b2b"/>
<line x1="162.3" y1="544.6" x2="198.5" y2="544.6" stroke="#2b2b2b" stroke-width="1.15"/>
<text x="184" y="465.8" font-size="10" text-anchor="middle" fill="#222" stroke="#222" stroke-width="0.18" transform="rotate(-90 184 465.8)" letter-spacing="-0.4">220</text>
<text x="193.2" y="465.3" font-size="8.1" text-anchor="middle" fill="#222" stroke="#222" stroke-width="0.18" transform="rotate(-90 193.2 465.3)" letter-spacing="-0.25">(8 21/32")</text>
<line x1="99.3" y1="502" x2="175.1" y2="502" stroke="#2b2b2b" stroke-width="1.15"/>
<polygon points="147.7,502 138.70,504.00 138.70,502.00 138.70,500.00" fill="#2b2b2b"/>
<polygon points="162.7,502 171.70,500.00 171.70,502.00 171.70,504.00" fill="#2b2b2b"/>
<text x="115.6" y="487.5" font-size="10" text-anchor="middle" fill="#222" stroke="#222" stroke-width="0.18" letter-spacing="-0.4">Ø20</text>
<text x="115.8" y="498.0" font-size="8.1" text-anchor="middle" fill="#222" stroke="#222" stroke-width="0.18" letter-spacing="-0.25">(Ø25/32")</text>
</svg></body></html>
